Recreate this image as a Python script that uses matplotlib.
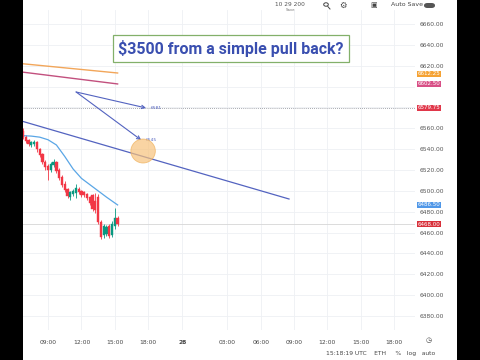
import numpy as np
import matplotlib.pyplot as plt
from matplotlib.patches import Ellipse, Rectangle, FancyBboxPatch, Circle
import matplotlib.transforms as mtransforms

# 15 minute candles, time axis in hours relative to 09:00 UTC
t_first = -2.25
opens  = [6557, 6552, 6549, 6544, 6545, 6547, 6540, 6535, 6528, 6524, 6520, 6525,
          6528, 6520, 6513, 6507, 6502, 6494, 6497, 6498, 6502, 6500, 6499, 6497,
          6494, 6496, 6490, 6494, 6470, 6458, 6459, 6466, 6458, 6466, 6474]
highs  = [6560, 6554, 6550, 6548, 6549, 6548, 6541, 6536, 6530, 6526, 6528, 6531,
          6529, 6522, 6515, 6509, 6503, 6500, 6502, 6507, 6504, 6501, 6500, 6498,
          6495, 6497, 6498, 6497, 6472, 6468, 6467, 6468, 6471, 6484, 6476]
lows   = [6550, 6546, 6543, 6542, 6543, 6537, 6532, 6526, 6520, 6510, 6518, 6523,
          6517, 6510, 6504, 6499, 6493, 6491, 6495, 6493, 6497, 6494, 6494, 6491,
          6486, 6481, 6479, 6468, 6454, 6455, 6457, 6455, 6456, 6463, 6466]
closes = [6552, 6548, 6545, 6547, 6547, 6540, 6534, 6528, 6523, 6520, 6526, 6528,
          6519, 6512, 6506, 6501, 6495, 6499, 6500, 6503, 6499, 6496, 6496, 6493,
          6488, 6483, 6482, 6470, 6456, 6466, 6465, 6457, 6468, 6474, 6468]

ema_t = [-2.4, -1.5, -0.75, 0.0, 0.75, 1.5, 2.25, 3.0, 3.75, 4.5, 5.25, 6.25]
ema_p = [6553, 6552.5, 6551.5, 6549, 6544, 6533, 6521, 6512, 6506, 6500, 6494, 6486.5]

ma_t = [-2.4, 6.25]
ma_orange = [6622, 6613]
ma_pink = [6614, 6602.5]

trend_t = [-2.4, 21.65]
trend_p = [6567, 6492.2]

arrow_start = (2.52, 6594.8)
arrow_ends = [(8.8, 6579.5), (8.36, 6548.8)]
arrow_texts = ["6581", "6545"]
circle_center = (8.54, 6538.2)

price_ticks = list(range(6380, 6661, 20))
hidden_ticks = [6600, 6580]   # covered by the price tags on the scale
time_ticks = [0, 3, 6, 9, 12.05, 16.1, 19.1, 22.1, 25.1, 28.1, 31.1]
time_labels = ["09:00", "12:00", "15:00", "18:00", "28", "03:00", "06:00",
               "09:00", "12:00", "15:00", "18:00"]

tag_values = [6612.25, 6602.50, 6579.75, 6486.50, 6468.00]
tag_colors = ["#f5a233", "#d84f86", "#e0374a", "#4f97e8", "#d8303a"]

up_col, down_col = "#089981", "#f23645"

fig = plt.figure(figsize=(4.8, 3.6), dpi=100)
ax = fig.add_axes([22 / 480, 30 / 360, (415 - 22) / 480, 320 / 360])
ax.set_xlim(-2.34, 32.97)
ax.set_ylim(6366.6, 6673.4)
for s in ax.spines.values():
    s.set_visible(False)

ax.set_yticks(price_ticks)
ax.set_yticklabels(["" if p in hidden_ticks else f"{p:.2f}" for p in price_ticks])
ax.yaxis.tick_right()
ax.tick_params(axis="y", length=0, labelsize=4.3, labelcolor="#555555", pad=3)
ax.set_xticks(time_ticks)
ax.set_xticklabels(time_labels)
ax.tick_params(axis="x", length=0, labelsize=4.3, labelcolor="#444444", pad=7)
ax.get_xticklabels()[4].set_fontweight("bold")
ax.grid(True, color="#eef0f4", lw=0.6)
ax.set_axisbelow(True)

# candles
n = len(opens)
times = t_first + 0.25 * np.arange(n)
cols = [up_col if c >= o else down_col for o, c in zip(opens, closes)]
ax.vlines(times, lows, highs, colors=cols, lw=0.6, zorder=3)
bottoms = np.minimum(opens, closes)
heights = np.maximum(np.abs(np.array(closes) - np.array(opens)), 0.8)
ax.bar(times, heights, bottom=bottoms, width=0.2, color=cols, edgecolor=cols,
       lw=0.3, zorder=4)

ax.plot(ema_t, ema_p, color="#5aa6e6", lw=0.9, zorder=3)
ax.plot(ma_t, ma_orange, color="#f2a65a", lw=1.0)
ax.plot(ma_t, ma_pink, color="#c2507e", lw=1.0)
ax.plot(trend_t, trend_p, color="#5363c0", lw=0.9)

ax.axhline(6579.75, color="#8a8d96", lw=0.6, ls=(0, (1, 1.5)))
ax.axhline(6468.0, color="#d6d6d6", lw=0.6)

for (ex, ey), txt in zip(arrow_ends, arrow_texts):
    ax.annotate("", xy=(ex, ey), xytext=arrow_start,
                arrowprops=dict(arrowstyle="->", color="#5363c0", lw=0.8,
                                mutation_scale=6, shrinkA=0, shrinkB=0))
    ax.text(ex + 0.4, ey, txt, fontsize=3.2, color="#5363c0", va="center")

ax.add_patch(Ellipse(circle_center, 2.2, 23, facecolor="#f7c27c", alpha=0.7,
                     edgecolor="#eeae55", lw=0.6, zorder=5))

trans = mtransforms.blended_transform_factory(ax.transAxes, ax.transData)
for v, c in zip(tag_values, tag_colors):
    ax.text(1.007, v, f"{v:.2f}", transform=trans, fontsize=4.0, color="white",
            va="center", ha="left",
            bbox=dict(boxstyle="square,pad=0.12", fc=c, ec="none"))

# title box
fig.text(231 / 480, 1 - 48.5 / 360, "$3500 from a simple pull back?",
         fontsize=11.5, fontweight="bold", family="Roboto", color="#3a4fb0",
         ha="center", va="center",
         bbox=dict(boxstyle="square,pad=0.3", fc="white", ec="#83b06a", lw=0.9))

# toolbar / status bar
fig.text(290 / 480, 1 - 4 / 360, "10 29 200", fontsize=4.2, color="#555555",
         ha="center", va="center")
fig.text(290 / 480, 1 - 10 / 360, "Save", fontsize=2.8, color="#777777",
         ha="center", va="center")
# magnifier icon
fig.patches.append(Circle((326 / 480, 1 - 4.5 / 360), 2.3 / 480,
                          transform=fig.transFigure, fc="none", ec="#444444",
                          lw=0.7))
fig.lines.append(plt.Line2D([327.8 / 480, 330 / 480], [1 - 6.5 / 360, 1 - 9 / 360],
                            transform=fig.transFigure, color="#444444", lw=0.7))
fig.text(343 / 480, 1 - 5 / 360, "\u2699", fontsize=6, color="#444444",
         ha="center", va="center")
fig.text(374 / 480, 1 - 5 / 360, "\u25a3", fontsize=5, color="#444444",
         ha="center", va="center")
fig.text(391 / 480, 1 - 5 / 360, "Auto Save", fontsize=4.5, color="#444444",
         ha="left", va="center")
fig.patches.append(FancyBboxPatch((424 / 480, 1 - 8 / 360), 11 / 480, 5 / 360,
                                  boxstyle="round,pad=0,rounding_size=0.007",
                                  transform=fig.transFigure, fc="#555555",
                                  ec="none"))
fig.text(435 / 480, 1 - 354 / 360, "15:18:19 UTC    ETH     %   log   auto",
         fontsize=4.3, color="#444444", ha="right", va="center")
fig.text(429 / 480, 1 - 340 / 360, "\u25f7", fontsize=5, color="#444444",
         ha="center", va="center")

# black side bars
fig.patches.append(Rectangle((0, 0), 22.5 / 480, 1, transform=fig.transFigure,
                             fc="black", ec="none", zorder=10))
fig.patches.append(Rectangle((457 / 480, 0), 23 / 480, 1, transform=fig.transFigure,
                             fc="black", ec="none", zorder=10))

fig.savefig("out.png", dpi=100)
